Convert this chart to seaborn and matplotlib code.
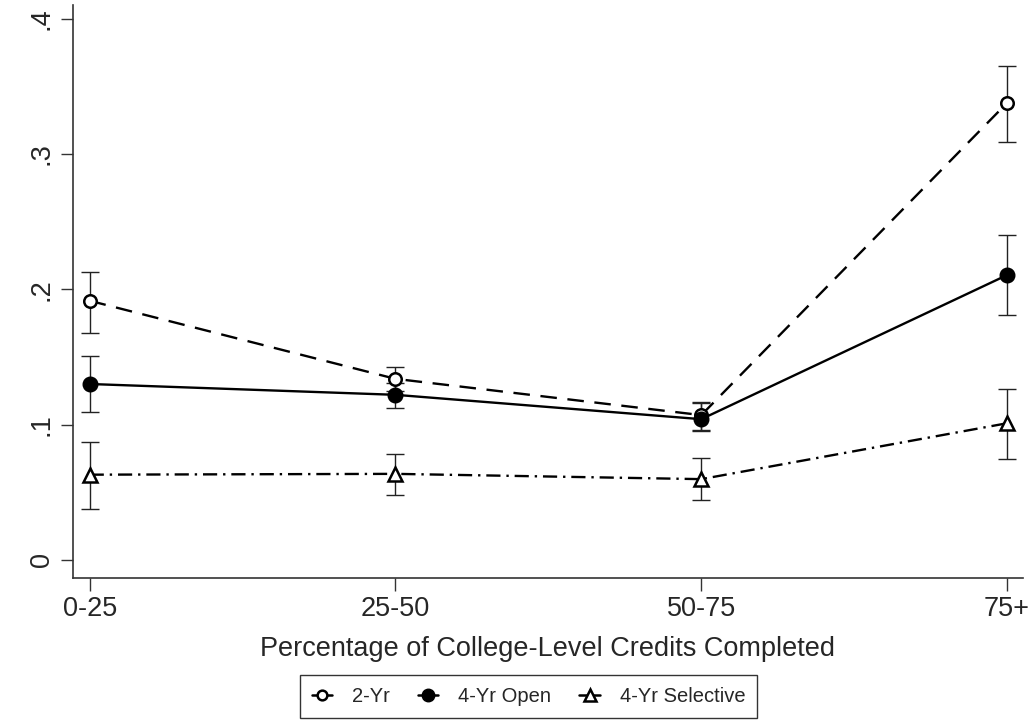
import matplotlib
matplotlib.use("Agg")
import matplotlib.pyplot as plt
import seaborn as sns
import pandas as pd
import numpy as np
from matplotlib.lines import Line2D

categories = ["0-25", "25-50", "50-75", "75+"]
series_names = ["2-Yr", "4-Yr Open", "4-Yr Selective"]

two_yr = [0.1915, 0.1338, 0.107, 0.3377]
two_yr_lo = [0.168, 0.125, 0.096, 0.309]
two_yr_hi = [0.213, 0.1427, 0.117, 0.365]

open_4yr = [0.130, 0.122, 0.104, 0.2105]
open_4yr_lo = [0.109, 0.112, 0.095, 0.181]
open_4yr_hi = [0.151, 0.131, 0.116, 0.240]

sel_4yr = [0.063, 0.0636, 0.0597, 0.101]
sel_4yr_lo = [0.038, 0.048, 0.044, 0.0745]
sel_4yr_hi = [0.087, 0.078, 0.075, 0.126]

yticks = [0, 0.1, 0.2, 0.3, 0.4]
ytick_labels = ["0", ".1", ".2", ".3", ".4"]
xlabel = "Percentage of College-Level Credits Completed"

sns.set_style("white")
plt.rcParams['font.family'] = ['Liberation Sans', 'DejaVu Sans']

rows = []
for name, vals, lo, hi in [(series_names[0], two_yr, two_yr_lo, two_yr_hi),
                           (series_names[1], open_4yr, open_4yr_lo, open_4yr_hi),
                           (series_names[2], sel_4yr, sel_4yr_lo, sel_4yr_hi)]:
    for i, c in enumerate(categories):
        rows.append({"series": name, "pos": i, "cat": c, "y": vals[i], "lo": lo[i], "hi": hi[i]})
df = pd.DataFrame(rows)

fig = plt.figure(figsize=(10.35, 7.27), dpi=100)
ax = fig.add_axes([0.0705, 0.2054, 0.9884 - 0.0705, 0.9931 - 0.2054])

dash_map = {series_names[0]: (7, 4.5), series_names[1]: "", series_names[2]: (6, 2.5, 1, 2.5)}

# error bars
for name in series_names:
    d = df[df.series == name]
    ax.errorbar(d["pos"], d["y"], yerr=[d["y"] - d["lo"], d["hi"] - d["y"]],
                fmt="none", ecolor="#222222", elinewidth=1.0, capsize=6.5, capthick=1.0, zorder=2)

sns.lineplot(data=df, x="pos", y="y", style="series", dashes=dash_map, markers=False,
             color="black", linewidth=1.7, ax=ax, legend=False, zorder=3)

# markers
d = df[df.series == series_names[0]]
ax.plot(d["pos"], d["y"], linestyle="none", marker="o", markersize=9, markerfacecolor="white",
        markeredgecolor="black", markeredgewidth=1.8, zorder=5)
d = df[df.series == series_names[1]]
ax.plot(d["pos"], d["y"], linestyle="none", marker="o", markersize=10.5, markerfacecolor="black",
        markeredgecolor="black", zorder=6)
d = df[df.series == series_names[2]]
ax.plot(d["pos"], d["y"], linestyle="none", marker="^", markersize=10.5, markerfacecolor="white",
        markeredgecolor="black", markeredgewidth=1.8, zorder=5)

ax.set_xlim(-0.0546, 3.052)
ax.set_ylim(-0.0131, 0.41)
ax.set_xticks(range(len(categories)))
ax.set_xticklabels(categories, fontsize=19.5)
ax.set_yticks(yticks)
ax.set_yticklabels(ytick_labels, fontsize=19.5, rotation=90, va="center")
ax.set_xlabel(xlabel, fontsize=19.5, labelpad=10)
ax.set_ylabel("")
ax.tick_params(axis="both", which="both", direction="out", length=9, width=1, color="#333333", pad=4,
               bottom=True, left=True)
for s in ["top", "right"]:
    ax.spines[s].set_visible(False)
for s in ["left", "bottom"]:
    ax.spines[s].set_color("#333333")
    ax.spines[s].set_linewidth(1.2)

handles = [
    Line2D([0], [0], color="black", lw=1.8, marker="o", markersize=7, markerfacecolor="white",
           markeredgewidth=1.8, markeredgecolor="black"),
    Line2D([0], [0], color="black", lw=1.8, marker="o", markersize=9, markerfacecolor="black"),
    Line2D([0], [0], color="black", lw=1.8, marker="^", markersize=8, markerfacecolor="white",
           markeredgewidth=1.8, markeredgecolor="black"),
]
leg = fig.legend(handles, series_names, loc="center", bbox_to_anchor=(528.5 / 1035, 1 - 696.5 / 727),
                 ncol=3, fontsize=14.5, frameon=True, fancybox=False, edgecolor="black",
                 handlelength=1.0, columnspacing=1.4, handletextpad=1.0, borderpad=0.6)
leg.get_frame().set_linewidth(1.0)

fig.savefig("out.png", dpi=100)
